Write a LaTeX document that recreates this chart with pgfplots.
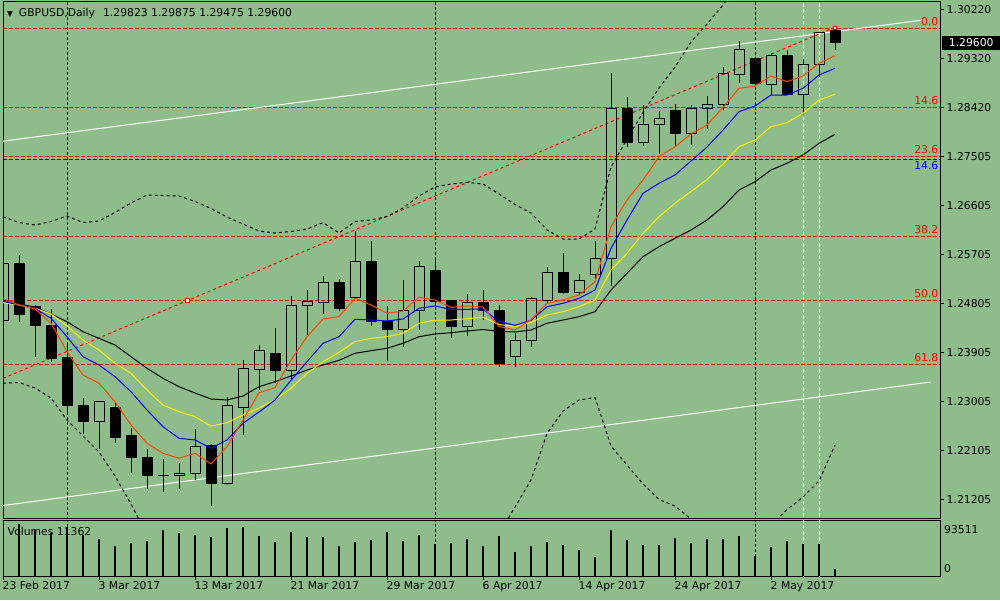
\documentclass[border=0pt]{standalone}
\usepackage{fontspec}
\setmainfont{DejaVu Sans}
\usepackage{pgfplots}
\pgfplotsset{compat=1.18}
\usepackage{pgfplotstable}
\definecolor{bg}{RGB}{143,188,139}
\definecolor{mared}{RGB}{255,69,0}
\definecolor{fibred}{RGB}{255,0,0}
\newcommand{\mtfont}{\fontsize{10.8}{13}\selectfont}

\pgfplotstableread{
x o h l c
-1 1.24485 1.25607 1.24269 1.25546
0 1.25534 1.25699 1.24472 1.24601
1 1.24748 1.24774 1.23828 1.24398
2 1.24411 1.24700 1.23736 1.23791
3 1.23804 1.24062 1.22810 1.22926
4 1.22939 1.23068 1.22406 1.22632
5 1.22632 1.23007 1.22124 1.23007
6 1.22902 1.23000 1.22245 1.22337
7 1.22369 1.22510 1.21682 1.21969
8 1.21982 1.22124 1.21388 1.21638
9 1.21646 1.21946 1.21333 1.21644
10 1.21646 1.21866 1.21388 1.21682
11 1.21682 1.22492 1.21559 1.22179
12 1.22190 1.22222 1.21086 1.21491
13 1.21491 1.23081 1.21480 1.22921
14 1.22897 1.23767 1.22387 1.23602
15 1.23589 1.24043 1.23215 1.23946
16 1.23878 1.24361 1.23338 1.23570
17 1.23570 1.24945 1.23399 1.24774
18 1.24774 1.25055 1.24227 1.24847
19 1.24829 1.25318 1.24614 1.25197
20 1.25197 1.25252 1.24674 1.24711
21 1.24913 1.26146 1.24905 1.25583
22 1.25583 1.25957 1.24393 1.24472
23 1.24472 1.24761 1.23754 1.24332
24 1.24332 1.25239 1.24012 1.24687
25 1.24682 1.25589 1.24319 1.25491
26 1.25405 1.25607 1.24779 1.24847
27 1.24853 1.24860 1.24177 1.24380
28 1.24380 1.24982 1.24214 1.24829
29 1.24834 1.25055 1.24503 1.24674
30 1.24687 1.24779 1.23644 1.23694
31 1.23828 1.24269 1.23644 1.24135
32 1.24122 1.24932 1.24012 1.24902
33 1.24871 1.25473 1.24810 1.25381
34 1.25386 1.25741 1.24994 1.25005
35 1.25005 1.25350 1.24995 1.25239
36 1.25344 1.25957 1.25239 1.25638
37 1.25638 1.29042 1.25134 1.28398
38 1.28398 1.28601 1.27692 1.27773
39 1.27773 1.28459 1.27710 1.28104
40 1.28104 1.28354 1.27552 1.28214
41 1.28367 1.28478 1.27705 1.27931
42 1.27938 1.28459 1.27723 1.28398
43 1.28398 1.28625 1.28018 1.28472
44 1.28472 1.29164 1.28367 1.29030
45 1.29024 1.29637 1.28869 1.29477
46 1.29318 1.29342 1.28827 1.28858
47 1.28840 1.29410 1.28643 1.29374
48 1.29379 1.29471 1.28643 1.28656
49 1.28656 1.29300 1.28275 1.29208
50 1.29208 1.29800 1.28980 1.29797
51 1.29823 1.29875 1.29475 1.29600
}\candles

\pgfplotstableread{
x red blue yellow black bbu bbl
-1 1.248950 1.248472 1.248214 1.248711 1.264038 1.233384
0 1.247791 1.247791 1.247791 1.247975 1.262971 1.233531
1 1.247055 1.247184 1.247184 1.247423 1.262511 1.232519
2 1.244424 1.245344 1.246135 1.246135 1.263155 1.230679
3 1.239198 1.241958 1.243927 1.244718 1.264167 1.226631
4 1.234911 1.238278 1.241351 1.242878 1.262971 1.223687
5 1.233384 1.236751 1.239511 1.241664 1.263247 1.220743
6 1.229998 1.234598 1.237064 1.240431 1.264811 1.216327
7 1.225711 1.231838 1.235224 1.238278 1.266559 1.211175
8 1.222344 1.228471 1.232151 1.236144 1.268031 1.205471
9 1.220504 1.225398 1.229391 1.234304 1.267939 1.200871
10 1.219584 1.223264 1.228158 1.232758 1.267847 1.197191
11 1.220504 1.222951 1.227238 1.231599 1.266835 1.194431
12 1.218535 1.221424 1.225527 1.230495 1.265547 1.193511
13 1.221718 1.222951 1.226134 1.230311 1.263983 1.194431
14 1.226631 1.226024 1.227551 1.231047 1.262695 1.196271
15 1.231654 1.228103 1.228839 1.232758 1.261407 1.198111
16 1.232574 1.230311 1.230311 1.233678 1.261039 1.199951
17 1.237671 1.233936 1.232464 1.234727 1.261315 1.201791
18 1.241958 1.237358 1.235224 1.235831 1.261775 1.203079
19 1.245215 1.240744 1.237358 1.236751 1.262934 1.204183
20 1.245638 1.241958 1.239088 1.237616 1.261039 1.204919
21 1.249024 1.245160 1.241038 1.238904 1.263155 1.205471
22 1.247791 1.245031 1.241664 1.239382 1.263431 1.205839
23 1.246264 1.244847 1.241958 1.239824 1.264075 1.205839
24 1.246687 1.245215 1.242584 1.240744 1.265639 1.205471
25 1.249208 1.247184 1.244424 1.241958 1.267847 1.204551
26 1.248711 1.247607 1.245031 1.242455 1.269503 1.203631
27 1.247368 1.247000 1.245031 1.242694 1.270055 1.203079
28 1.247607 1.247000 1.245270 1.243007 1.270368 1.203079
29 1.247423 1.247055 1.245583 1.243283 1.270055 1.203631
30 1.243835 1.244755 1.244203 1.242952 1.268215 1.205655
31 1.243191 1.244056 1.243798 1.242823 1.266283 1.210623
32 1.245086 1.244976 1.244571 1.243191 1.264719 1.215591
33 1.248104 1.247478 1.245951 1.244424 1.261591 1.224147
34 1.248711 1.248104 1.246558 1.245031 1.259935 1.228287
35 1.249631 1.249024 1.247478 1.245638 1.259935 1.230311
36 1.252078 1.250551 1.248711 1.246558 1.261775 1.230771
37 1.262198 1.258224 1.254231 1.250551 1.273183 1.221847
38 1.267111 1.263431 1.257304 1.253624 1.278335 1.218351
39 1.270791 1.268344 1.260984 1.256678 1.283211 1.214855
40 1.275078 1.270184 1.264038 1.258518 1.287719 1.212003
41 1.276918 1.271711 1.266504 1.260064 1.291583 1.210807
42 1.279255 1.274287 1.268675 1.261591 1.296183 1.208415
43 1.280911 1.276863 1.270865 1.263431 1.299495 1.205471
44 1.284131 1.279991 1.273735 1.265878 1.302991 1.203631
45 1.287664 1.283358 1.276918 1.268951 1.307223 1.203631
46 1.288087 1.284407 1.278151 1.270478 1.310351 1.205103
47 1.289927 1.286431 1.280598 1.272631 1.312191 1.207311
48 1.288878 1.286431 1.281334 1.273864 1.314031 1.210163
49 1.289927 1.287664 1.283064 1.275391 1.314951 1.212463
50 1.292264 1.290111 1.285511 1.277544 1.316423 1.215407
51 1.293662 1.291344 1.286560 1.279200 1.317711 1.222031
}\ind

\pgfplotstableread{
x v
-1 81400
0 87800
1 77900
2 72200
3 81900
4 69300
5 62400
6 50200
7 55400
8 58900
9 77900
10 72700
11 69300
12 65800
13 81400
14 83100
15 67500
16 57200
17 74500
18 65800
19 65800
20 50200
21 57200
22 60600
23 74500
24 58900
25 69300
26 53700
27 55400
28 62400
29 50200
30 67500
31 39800
32 50200
33 57200
34 52000
35 43300
36 31200
37 77900
38 60600
39 52000
40 52000
41 64100
42 55400
43 62400
44 62400
45 67500
46 32900
47 48500
48 58900
49 53700
50 53700
51 11362
}\vol

\pgfplotsset{
  ebv/.style={draw=none, no markers, forget plot,
    error bars/y dir=plus, error bars/y explicit, error bars/error mark=none,
    error bars/error bar style={draw=black, solid, line width=#1}},
  ebh/.style={draw=none, no markers, forget plot,
    error bars/x dir=both, error bars/x explicit, error bars/error mark=none,
    error bars/error bar style={draw=black, solid, line width=1pt}},
}

\begin{document}
\begin{tikzpicture}
\path[use as bounding box, fill=bg] (0pt,0pt) rectangle (1000pt,-600pt);

% ---------------- main price panel ----------------
\begin{axis}[
  at={(3pt,-1pt)}, anchor=north west,
  scale only axis, width=937pt, height=517pt,
  xmin=-1, xmax=57.5625, ymin=1.208599, ymax=1.303727,
  clip mode=individual,
  axis line style={black, line width=1pt},
  xtick=\empty,
  ytick={1.302200,1.293184,1.284168,1.275152,1.266136,1.257120,1.248104,1.239088,1.230072,1.221056,1.212040},
  yticklabels={1.30220,1.29320,1.28420,1.27505,1.26605,1.25705,1.24805,1.23905,1.23005,1.22105,1.21205},
  ytick pos=right, yticklabel pos=right,
  tick align=outside, major tick length=3.5pt,
  tick style={black, line width=1pt},
  yticklabel style={font=\mtfont, anchor=west, inner sep=0pt, xshift=3pt},
]
% vertical separators
\addplot[black, line width=1pt, dash pattern=on 3pt off 2pt] coordinates {(3,1.20) (3,1.31)};
\addplot[black, line width=1pt, dash pattern=on 3pt off 2pt] coordinates {(26,1.20) (26,1.31)};
\addplot[black, line width=1pt, dash pattern=on 3pt off 2pt] coordinates {(46,1.20) (46,1.31)};
\addplot[white, line width=1pt, dash pattern=on 4pt off 2pt] coordinates {(49,1.20) (49,1.31)};
\addplot[white, line width=1pt, dash pattern=on 4pt off 2pt] coordinates {(50,1.20) (50,1.31)};
% Fibonacci levels
\addplot[fibred, line width=1pt, dash pattern=on 4pt off 2pt] coordinates {(-1,1.298704) (57.5625,1.298704)};
\addplot[fibred, line width=1pt, dash pattern=on 4pt off 2pt] coordinates {(-1,1.284131) (57.5625,1.284131)};
\addplot[blue, line width=1pt, dash pattern=on 4pt off 2pt] coordinates {(-1,1.274600) (57.5625,1.274600)};
\addplot[fibred, line width=1pt, dash pattern=on 4pt off 2pt] coordinates {(-1,1.275115) (57.5625,1.275115)};
\addplot[fibred, line width=1pt, dash pattern=on 4pt off 2pt] coordinates {(-1,1.260487) (57.5625,1.260487)};
\addplot[fibred, line width=1pt, dash pattern=on 4pt off 2pt] coordinates {(-1,1.248711) (57.5625,1.248711)};
\addplot[fibred, line width=1pt, dash pattern=on 4pt off 2pt] coordinates {(-1,1.236935) (57.5625,1.236935)};
% channel lines
\addplot[white, line width=1pt] coordinates {(-1,1.277930) (56.5,1.300231)};
\addplot[white, line width=1pt] coordinates {(-1,1.210899) (56.98,1.233623)};
% Fibonacci trend line
\addplot[fibred, line width=1pt, dash pattern=on 3pt off 3pt] coordinates {(-1,1.234285) (51,1.29890)};
% Bollinger bands
\addplot[black, line width=1pt, dash pattern=on 3pt off 3pt] table[x=x,y=bbu]{\ind};
\addplot[black, line width=1pt, dash pattern=on 3pt off 3pt] table[x=x,y=bbl]{\ind};
% candles: upper wick
\addplot[ebv=1pt] table[x=x, y expr={max(\thisrow{o},\thisrow{c})}, y error plus expr={\thisrow{h}-max(\thisrow{o},\thisrow{c})}]{\candles};
% lower wick
\addplot[ebv=1pt] table[x=x, y=l, y error plus expr={min(\thisrow{o},\thisrow{c})-\thisrow{l}}]{\candles};
% bear bodies
\addplot[ebv=11pt] table[x=x, y expr={\thisrow{c}-0.00009}, y error plus expr={max(\thisrow{o}-\thisrow{c},0)+0.00018}]{\candles};
% body outlines
\addplot[ebv=1pt] table[x expr={\thisrow{x}-0.3125}, y expr={min(\thisrow{o},\thisrow{c})-0.00009}, y error plus expr={abs(\thisrow{c}-\thisrow{o})+0.00018}]{\candles};
\addplot[ebv=1pt] table[x expr={\thisrow{x}+0.3125}, y expr={min(\thisrow{o},\thisrow{c})-0.00009}, y error plus expr={abs(\thisrow{c}-\thisrow{o})+0.00018}]{\candles};
\addplot[ebh] table[x=x, y expr={min(\thisrow{o},\thisrow{c})}, x error expr={0.34375}]{\candles};
\addplot[ebh] table[x=x, y expr={max(\thisrow{o},\thisrow{c})}, x error expr={0.34375}]{\candles};
% moving averages
\addplot[black, line width=1pt] table[x=x,y=black]{\ind};
\addplot[yellow, line width=1pt] table[x=x,y=yellow]{\ind};
\addplot[blue, line width=1pt] table[x=x,y=blue]{\ind};
\addplot[mared, line width=1pt] table[x=x,y=red]{\ind};
% anchor markers
\addplot[only marks, mark=square*, mark size=1.8pt, mark options={fill=white, draw=fibred, line width=0.8pt}] coordinates {(10.54,1.248656) (51,1.29880)};
% labels
\node[fibred, font=\mtfont, anchor=south east, inner xsep=1.5pt, inner ysep=2.5pt] at (axis cs:57.5625,1.298704) {0.0};
\node[fibred, font=\mtfont, anchor=south east, inner xsep=1.5pt, inner ysep=2.5pt] at (axis cs:57.5625,1.284131) {14.6};
\node[blue, font=\mtfont, anchor=north east, inner xsep=1.5pt, inner ysep=2pt] at (axis cs:57.5625,1.274600) {14.6};
\node[fibred, font=\mtfont, anchor=south east, inner xsep=1.5pt, inner ysep=2.5pt] at (axis cs:57.5625,1.275115) {23.6};
\node[fibred, font=\mtfont, anchor=south east, inner xsep=1.5pt, inner ysep=2.5pt] at (axis cs:57.5625,1.260487) {38.2};
\node[fibred, font=\mtfont, anchor=south east, inner xsep=1.5pt, inner ysep=2.5pt] at (axis cs:57.5625,1.248711) {50.0};
\node[fibred, font=\mtfont, anchor=south east, inner xsep=1.5pt, inner ysep=2.5pt] at (axis cs:57.5625,1.236935) {61.8};
\node[fill=black, text=white, font=\mtfont, anchor=west, inner sep=0pt, minimum height=13.5pt, minimum width=58pt, xshift=2pt] at (axis cs:57.5625,1.29600) {1.29600};
\end{axis}

% ---------------- volume panel ----------------
\begin{axis}[
  at={(3pt,-520.5pt)}, anchor=north west,
  scale only axis, width=937pt, height=56pt,
  xmin=-1, xmax=57.5625, ymin=-1700, ymax=93511,
  clip mode=individual,
  axis line style={black, line width=1pt},
  ytick=\empty,
  xtick={-1,5,11,17,23,29,35,41,47},
  xticklabels={23 Feb 2017,3 Mar 2017,13 Mar 2017,21 Mar 2017,29 Mar 2017,6 Apr 2017,14 Apr 2017,24 Apr 2017,2 May 2017},
  xtick pos=bottom, tick align=outside, major tick length=3pt,
  tick style={black, line width=1pt},
  xticklabel style={font=\mtfont, anchor=north west, inner sep=0pt, xshift=-0.5pt, yshift=-2pt},
]
\addplot[black, line width=1pt, dash pattern=on 3pt off 2pt] coordinates {(3,-2000) (3,100000)};
\addplot[black, line width=1pt, dash pattern=on 3pt off 2pt] coordinates {(26,-2000) (26,100000)};
\addplot[black, line width=1pt, dash pattern=on 3pt off 2pt] coordinates {(46,-2000) (46,100000)};
\addplot[white, line width=1pt, dash pattern=on 4pt off 2pt] coordinates {(49,-2000) (49,100000)};
\addplot[white, line width=1pt, dash pattern=on 4pt off 2pt] coordinates {(50,-2000) (50,100000)};
\addplot[ycomb, black, line width=2pt, mark=none] table[x=x,y=v]{\vol};
\node[font=\mtfont, anchor=west, inner sep=0pt] at (rel axis cs:0,1) [xshift=4.5pt, yshift=-11.2pt] {Volumes 11362};
\node[font=\mtfont, anchor=west, inner sep=0pt] at (rel axis cs:1,1) [xshift=4pt, yshift=-9.5pt] {93511};
\node[font=\mtfont, anchor=west, inner sep=0pt] at (rel axis cs:1,0) [xshift=4pt, yshift=8.2pt] {0};
\end{axis}

\node[font=\mtfont, anchor=base west, inner sep=0pt] at (7pt,-16.6pt) {{\fontsize{7.5}{8}\selectfont ▼}\hspace{6pt}GBPUSD,Daily\hspace{8pt}1.29823 1.29875 1.29475 1.29600};
\end{tikzpicture}
\end{document}
